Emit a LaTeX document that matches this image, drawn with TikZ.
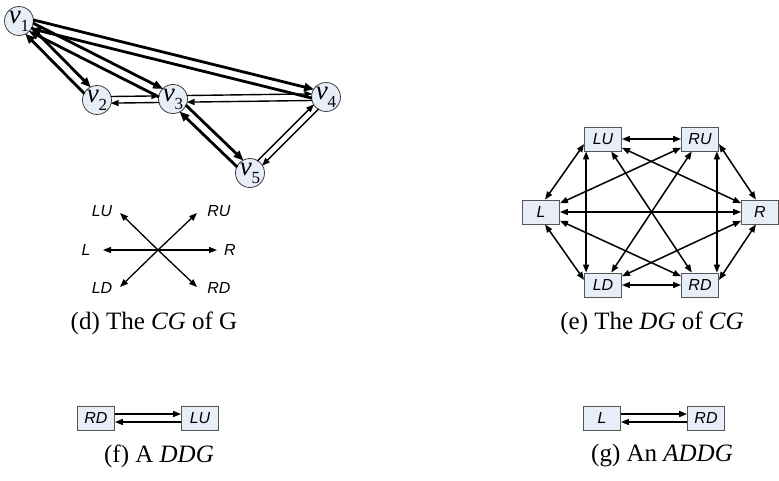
\documentclass[tikz,border=0pt]{standalone}
\usepackage{fontspec}
\setmainfont{Liberation Serif}
\newfontfamily\labfont{Liberation Sans}
\usetikzlibrary{arrows.meta,calc}
\definecolor{nodefill}{HTML}{E8EEF8}
\definecolor{boxline}{HTML}{555555}
\tikzset{
  vert/.style={circle,draw=black!75,fill=nodefill,line width=0.8pt,minimum size=28pt,inner sep=0pt,font=\fontsize{27}{27}\selectfont\itshape},
  thickedge/.style={line width=2.8pt,-{Triangle[length=10pt,width=8pt]},shorten <=13.3pt,shorten >=13.3pt},
  thinedge/.style={line width=1.4pt,-{Triangle[length=8pt,width=6pt]},shorten <=13.6pt,shorten >=13.6pt},
  dirbox/.style={draw=boxline,fill=nodefill,line width=0.8pt,minimum width=37pt,minimum height=24pt,inner sep=0pt,font=\fontsize{16}{16}\selectfont\labfont\itshape},
  dgedge/.style={line width=1.5pt,{Triangle[length=8pt,width=6pt]}-{Triangle[length=8pt,width=6pt]}},
  staredge/.style={line width=1.3pt,-{Triangle[length=8pt,width=6pt]}},
  starlab/.style={font=\fontsize{16}{16}\selectfont\labfont\itshape,inner sep=0pt},
  caption/.style={font=\fontsize{25}{25}\selectfont,inner sep=0pt},
  pairedge/.style={line width=1.5pt,-{Triangle[length=8pt,width=6pt]}}
}
\newcommand\gedge[4]{\draw[#1] ($(#2)!#4!90:(#3)$) -- ($(#3)!#4!-90:(#2)$);}
\newcommand\vlab[1]{v\raisebox{-0.3em}{\fontsize{17}{17}\selectfont\upshape #1}}
\begin{document}
\begin{tikzpicture}[x=1pt,y=-1pt]
\useasboundingbox (0,0) rectangle (779,480);
% graph G
\node[vert] (v1) at (19,21) {\vlab{1}};
\node[vert] (v2) at (97,100) {\vlab{2}};
\node[vert] (v3) at (173,99) {\vlab{3}};
\node[vert] (v4) at (326,97) {\vlab{4}};
\node[vert] (v5) at (250,173) {\vlab{5}};
\gedge{thickedge}{v1}{v2}{4.5pt}
\gedge{thickedge}{v2}{v1}{4.5pt}
\gedge{thickedge}{v1}{v3}{4.5pt}
\gedge{thickedge}{v3}{v1}{4.5pt}
\gedge{thickedge}{v1}{v4}{4.5pt}
\gedge{thickedge}{v4}{v1}{4.5pt}
\gedge{thickedge}{v3}{v5}{4.5pt}
\gedge{thickedge}{v5}{v3}{4.5pt}
\gedge{thinedge}{v2}{v3}{3.3pt}
\gedge{thinedge}{v3}{v2}{3.3pt}
\gedge{thinedge}{v3}{v4}{3.3pt}
\gedge{thinedge}{v4}{v3}{3.3pt}
\gedge{thinedge}{v4}{v5}{3.3pt}
\gedge{thinedge}{v5}{v4}{3.3pt}
% CG star
\coordinate (c) at (158,250);
\coordinate (tL) at (103,250);
\coordinate (tR) at (217,250);
\coordinate (tLU) at (120,213);
\coordinate (tRU) at (197,213);
\coordinate (tLD) at (120,287);
\coordinate (tRD) at (197,287);
\foreach \t in {tL,tR,tLU,tRU,tLD,tRD} \draw[staredge] (c) -- (\t);
\node[starlab] (sLU) at (102,211) {LU};
\node[starlab] (sRU) at (219,211) {RU};
\node[starlab] (sL) at (86,250) {L};
\node[starlab] (sR) at (230,250) {R};
\node[starlab] (sLD) at (102,288) {LD};
\node[starlab] (sRD) at (219,288) {RD};
\node[caption] (capd) at (154,323) {(d) The \textit{CG} of G};
% DG
\node[dirbox] (LU) at (603,139) {LU};
\node[dirbox] (RU) at (700,139) {RU};
\node[dirbox] (L) at (541,212) {L};
\node[dirbox] (R) at (760,212) {R};
\node[dirbox] (LD) at (603,285) {LD};
\node[dirbox] (RD) at (700,285) {RD};
\draw[dgedge] (LU) -- (RU);
\draw[dgedge] (LD) -- (RD);
\draw[dgedge] (L) -- (R);
\draw[dgedge] (LU.195) -- (L.72);
\draw[dgedge] (RU.-15) -- (R.108);
\draw[dgedge] (L.-72) -- (LD.165);
\draw[dgedge] (R.-108) -- (RD.15);
\draw[dgedge] ([xshift=2pt]LU.south west) -- ([xshift=2pt]LD.north west);
\draw[dgedge] ([xshift=-2pt]RU.south east) -- ([xshift=-2pt]RD.north east);
\draw[dgedge] (LU) -- (RD);
\draw[dgedge] (RU) -- (LD);
\draw[dgedge] (LU) -- (R);
\draw[dgedge] (RU) -- (L);
\draw[dgedge] (L) -- (RD);
\draw[dgedge] (R) -- (LD);
\node[caption] (cape) at (652,323) {(e) The \textit{DG} of \textit{CG}};
% DDG
\node[dirbox] (fRD) at (96,418) {RD};
\node[dirbox] (fLU) at (200,418) {LU};
\draw[pairedge] ([yshift=4pt]fRD.east) -- ([yshift=4pt]fLU.west);
\draw[pairedge] ([yshift=-4pt]fLU.west) -- ([yshift=-4pt]fRD.east);
\node[caption] (capf) at (159,456) {(f) A \textit{DDG}};
% ADDG
\node[dirbox] (gL) at (602,418) {L};
\node[dirbox] (gRD) at (706,418) {RD};
\draw[pairedge] ([yshift=4pt]gL.east) -- ([yshift=4pt]gRD.west);
\draw[pairedge] ([yshift=-4pt]gRD.west) -- ([yshift=-4pt]gL.east);
\node[caption] (capg) at (662,456) {(g) An \textit{ADDG}};
\end{tikzpicture}
\end{document}
